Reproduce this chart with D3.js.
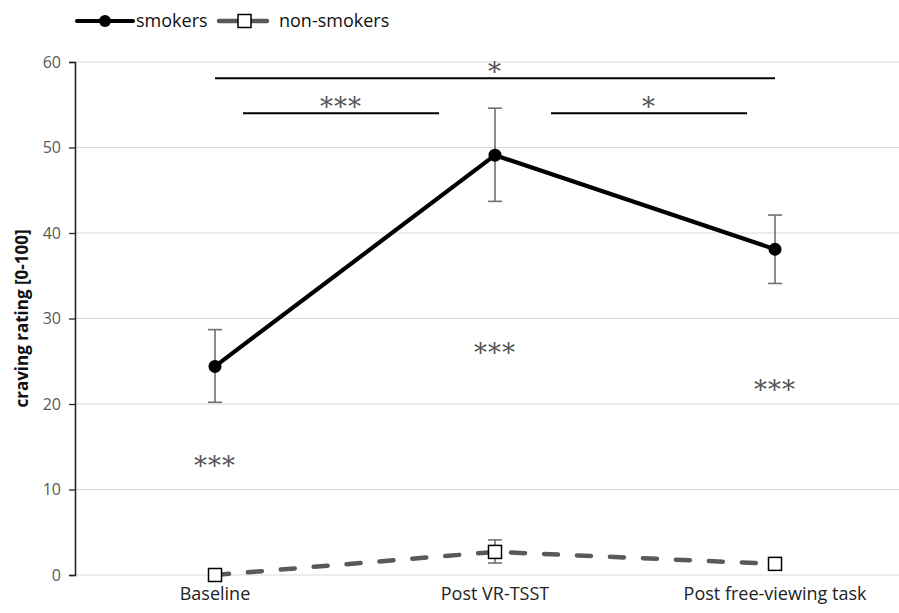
<!DOCTYPE html>
<html>
<head>
<meta charset="utf-8">
<script src="https://cdn.jsdelivr.net/npm/d3@7"></script>
<style>
  html, body { margin: 0; padding: 0; background: #fff; }
  svg { display: block; }
  text { font-family: "Open Sans", "Noto Sans", sans-serif; }
</style>
</head>
<body>
<svg id="chart" width="899" height="613"></svg>
<script>
// Time points of the craving assessment
const categories = ["Baseline", "Post VR-TSST", "Post free-viewing task"];

// Mean craving rating and error bar bounds per group
const smokersMean = [24.4, 49.1, 38.1];
const smokersLow  = [20.2, 43.7, 34.1];
const smokersHigh = [28.7, 54.6, 42.1];

const nonSmokersMean = [0.0, 2.7, 1.3];
const nonSmokersLow  = [0.0, 1.4, 1.2];
const nonSmokersHigh = [0.0, 4.1, 1.4];

const yTicks = [0, 10, 20, 30, 40, 50, 60];

// Group differences at each time point (y = vertical centre of the stars)
const groupStars = [
  { cat: 0, y: 13.2, label: "***" },
  { cat: 1, y: 26.4, label: "***" },
  { cat: 2, y: 22.1, label: "***" }
];

// Within-smoker comparisons between time points
// (insets are fractions of the category step, trimmed from each end)
const brackets = [
  { from: 0, to: 2, y: 58.1, label: "*",   insetL: 0,   insetR: 0 },
  { from: 0, to: 1, y: 54.0, label: "***", insetL: 0.1, insetR: 0.2 },
  { from: 1, to: 2, y: 54.0, label: "*",   insetL: 0.2, insetR: 0.1 }
];

const svg = d3.select("#chart");
const margin = { top: 62, right: -16, bottom: 38, left: 75 };
const W = 899, H = 613;

const x = d3.scaleBand()
  .domain(categories)
  .range([margin.left, W - margin.right])
  .paddingInner(0).paddingOuter(0);
const cx = i => x(categories[i]) + x.bandwidth() / 2;

const y = d3.scaleLinear()
  .domain([0, 60])
  .range([H - margin.bottom, margin.top]);

// Horizontal gridlines
svg.append("g")
  .selectAll("line")
  .data(yTicks)
  .join("line")
  .attr("x1", margin.left).attr("x2", W)
  .attr("y1", d => y(d)).attr("y2", d => y(d))
  .attr("stroke", "#d9d9d9").attr("stroke-width", 1);

// Y axis
const yAxis = svg.append("g")
  .attr("transform", `translate(${margin.left},0)`)
  .call(d3.axisLeft(y).tickValues(yTicks).tickSize(6).tickPadding(8));
yAxis.select(".domain").attr("stroke", "#262626").attr("stroke-width", 1.6);
yAxis.selectAll(".tick line").attr("stroke", "#262626").attr("stroke-width", 1.3);
yAxis.selectAll(".tick text")
  .attr("fill", "#595959")
  .style("font-size", "16px")
  .style("font-family", "'Open Sans', sans-serif");

// X axis labels
const xAxis = svg.append("g")
  .attr("transform", `translate(0,${y(0)})`)
  .call(d3.axisBottom(x).tickSize(0).tickPadding(12));
xAxis.select(".domain").remove();
xAxis.selectAll(".tick text")
  .attr("fill", "#222")
  .style("font-size", "18px")
  .style("font-family", "'Open Sans', sans-serif");

// Y axis title
svg.append("text")
  .attr("transform", `translate(21,${y(30)}) rotate(-90)`)
  .attr("text-anchor", "middle")
  .attr("dominant-baseline", "central")
  .attr("font-weight", "bold")
  .attr("fill", "#111")
  .style("font-size", "17px")
  .text("craving rating [0-100]");

// Error bars
function errorBars(low, high) {
  const g = svg.append("g").attr("stroke", "#707070").attr("stroke-width", 1.6);
  low.forEach((lo, i) => {
    const hi = high[i];
    if (hi - lo < 0.5) return;
    g.append("line").attr("x1", cx(i)).attr("x2", cx(i)).attr("y1", y(lo)).attr("y2", y(hi));
    [lo, hi].forEach(v => g.append("line")
      .attr("x1", cx(i) - 7).attr("x2", cx(i) + 7)
      .attr("y1", y(v)).attr("y2", y(v)));
  });
}
errorBars(smokersLow, smokersHigh);
errorBars(nonSmokersLow, nonSmokersHigh);

const line = d3.line().x((d, i) => cx(i)).y(d => y(d));

// Non-smokers: dashed gray line with open squares
svg.append("path")
  .datum(nonSmokersMean)
  .attr("d", line)
  .attr("fill", "none")
  .attr("stroke", "#595959")
  .attr("stroke-width", 4.5)
  .attr("stroke-linecap", "round")
  .attr("stroke-dasharray", "14 19");
svg.append("g").selectAll("rect")
  .data(nonSmokersMean)
  .join("rect")
  .attr("x", (d, i) => cx(i) - 6.5).attr("y", d => y(d) - 6.5)
  .attr("width", 13).attr("height", 13)
  .attr("fill", "#fff").attr("stroke", "#000").attr("stroke-width", 1.5);

// Smokers: solid black line with filled circles
svg.append("path")
  .datum(smokersMean)
  .attr("d", line)
  .attr("fill", "none")
  .attr("stroke", "#000")
  .attr("stroke-width", 4.2)
  .attr("stroke-linejoin", "round");
svg.append("g").selectAll("circle")
  .data(smokersMean)
  .join("circle")
  .attr("cx", (d, i) => cx(i)).attr("cy", d => y(d))
  .attr("r", 6.5).attr("fill", "#000");

// Significance stars; the serif asterisk sits high, so shift the baseline down
const STAR_SIZE = 26;
const starDrop = STAR_SIZE * 0.5;
const starStyle = sel => sel
  .attr("text-anchor", "middle")
  .attr("fill", "#555")
  .style("font-family", "'DejaVu Serif', serif")
  .style("font-size", STAR_SIZE + "px")
  .style("letter-spacing", "1px");

svg.append("g").selectAll("text")
  .data(groupStars)
  .join("text")
  .attr("x", d => cx(d.cat)).attr("y", d => y(d.y) + starDrop)
  .text(d => d.label)
  .call(starStyle);

const bg = svg.append("g");
brackets.forEach(b => {
  const step = x.bandwidth();
  const x1 = cx(b.from) + b.insetL * step;
  const x2 = cx(b.to) - b.insetR * step;
  bg.append("line")
    .attr("x1", x1).attr("x2", x2)
    .attr("y1", y(b.y)).attr("y2", y(b.y))
    .attr("stroke", "#000").attr("stroke-width", 2);
  bg.append("text")
    .attr("x", (x1 + x2) / 2).attr("y", y(b.y) - 10 + starDrop)
    .text(b.label)
    .call(starStyle);
});

// Legend
const legend = svg.append("g").attr("transform", "translate(0,21)");
legend.append("line").attr("x1", 77).attr("x2", 133).attr("y1", 0).attr("y2", 0)
  .attr("stroke", "#000").attr("stroke-width", 4.2).attr("stroke-linecap", "round");
legend.append("circle").attr("cx", 105).attr("cy", 0).attr("r", 6).attr("fill", "#000");
legend.append("text").attr("x", 136).attr("y", 6)
  .style("font-size", "18px").attr("fill", "#111").text("smokers");
legend.append("line").attr("x1", 219).attr("x2", 267).attr("y1", 0).attr("y2", 0)
  .attr("stroke", "#595959").attr("stroke-width", 4.5).attr("stroke-linecap", "round");
legend.append("rect").attr("x", 238).attr("y", -6.5).attr("width", 13).attr("height", 13)
  .attr("fill", "#fff").attr("stroke", "#000").attr("stroke-width", 1.5);
legend.append("text").attr("x", 279).attr("y", 6)
  .style("font-size", "18px").attr("fill", "#111").text("non-smokers");
</script>
</body>
</html>
